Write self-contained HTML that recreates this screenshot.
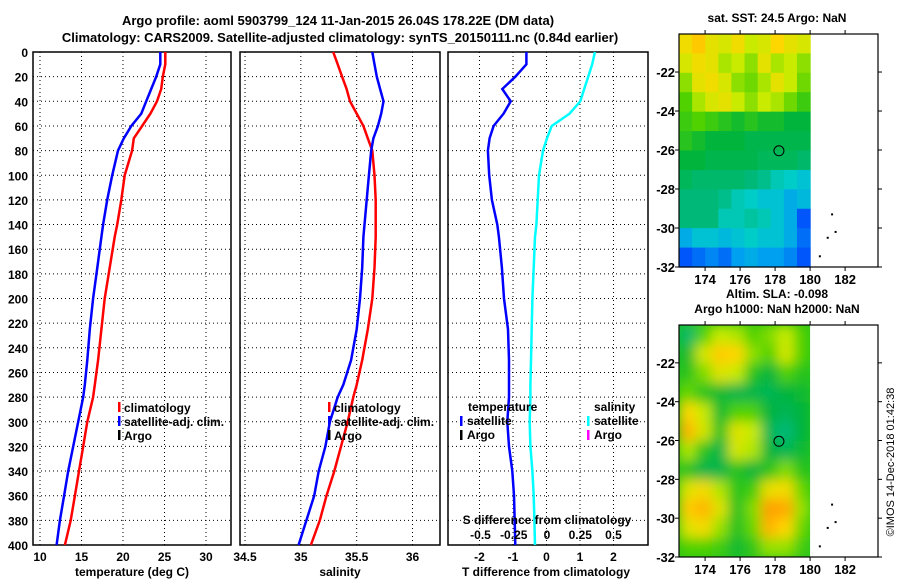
<!DOCTYPE html>
<html><head><meta charset="utf-8"><style>
html,body{margin:0;padding:0;background:#fff}
svg{display:block;font-family:"Liberation Sans",sans-serif;font-weight:bold}
text{font-size:12px;fill:#000}
</style></head><body>
<svg id="fig" width="900" height="580" viewBox="0 0 900 580">
<defs>
<filter id="blur" x="-10%" y="-10%" width="120%" height="120%"><feGaussianBlur stdDeviation="6" edgeMode="duplicate"/></filter>
<clipPath id="clipSla"><rect x="679" y="325" width="131" height="232"/></clipPath>
</defs>
<text x="338" y="25" text-anchor="middle" style="font-size:13px">Argo profile: aoml 5903799_124 11-Jan-2015 26.04S 178.22E (DM data)</text>
<text x="340" y="42" text-anchor="middle" style="font-size:13px">Climatology: CARS2009. Satellite-adjusted climatology: synTS_20150111.nc (0.84d earlier)</text>
<g id="p1"></g>
<g id="p2"></g>
<g id="p3"></g>
<g id="m1"></g>
<g id="m2"></g>
<text transform="translate(894,462) rotate(-90)" text-anchor="middle" style="font-size:11px;font-weight:normal">©IMOS 14-Dec-2018 01:42:38</text>
</svg>
<script>
// ---------- data ----------
const depths = [0,10,20,30,40,50,60,70,80,100,120,140,150,175,200,225,250,270,280,300,320,340,360,380,400];
const tempClim = [25.1,25.1,24.8,24.6,24.1,23.3,22.3,21.3,21.1,20.2,19.8,19.3,19.0,18.4,17.8,17.4,17.0,16.6,16.4,15.7,15.2,14.7,14.2,13.7,13.0];
const tempSat  = [24.5,24.5,24.0,23.4,22.8,22.2,21.0,20.1,19.4,18.7,18.1,17.6,17.4,16.9,16.4,16.0,15.7,15.4,15.2,14.6,14.0,13.4,12.9,12.4,12.0];
const salClim  = [35.29,35.33,35.37,35.41,35.44,35.5,35.56,35.6,35.64,35.66,35.67,35.67,35.67,35.66,35.64,35.6,35.55,35.5,35.47,35.42,35.36,35.3,35.23,35.17,35.09];
const salSat   = [35.64,35.66,35.68,35.71,35.74,35.72,35.69,35.65,35.63,35.61,35.59,35.57,35.56,35.55,35.53,35.5,35.45,35.38,35.33,35.26,35.22,35.16,35.12,35.05,34.98];
const tDiff = [-0.6,-0.6,-0.93,-1.32,-1.07,-1.28,-1.58,-1.7,-1.75,-1.71,-1.63,-1.47,-1.42,-1.33,-1.27,-1.15,-1.12,-1.12,-1.12,-1.17,-1.12,-1.02,-0.97,-0.95,-0.93];
const sDiff = [0.36,0.34,0.31,0.28,0.25,0.17,0.035,0.0,-0.03,-0.06,-0.07,-0.08,-0.09,-0.1,-0.11,-0.115,-0.12,-0.125,-0.125,-0.13,-0.125,-0.11,-0.1,-0.095,-0.09];
const depthTicks = [0,20,40,60,80,100,120,140,160,180,200,220,240,260,280,300,320,340,360,380,400];
const tempTicks = [10,15,20,25,30];
const salTicks = [34.5,35,35.5,36];
const tdTicks = [-2,-1,0,1,2];
const sdTicks = [-0.5,-0.25,0,0.25,0.5];
const sdTickLabels = ["-0.5","-0.25","0","0.25","0.5"];
const lonTicks = [174,176,178,180,182];
const latTicks = [-22,-24,-26,-28,-30,-32];
const sst = [
[25.6,25.8,25.5,25.4,25.6,25.3,25.4,25.7,25.5,25.4],
[25.4,25.6,25.5,25.2,25.3,25.1,25.5,25.2,25.3,25.1],
[25.1,25.5,25.6,25.4,25.1,25.0,25.2,25.5,25.3,25.0],
[24.9,25.2,25.4,25.5,25.3,25.1,25.3,25.2,25.0,24.8],
[24.8,24.9,24.8,24.7,24.6,24.7,24.6,24.6,24.5,24.5],
[24.7,24.6,24.5,24.5,24.5,24.4,24.4,24.4,24.4,24.4],
[24.5,24.5,24.4,24.4,24.4,24.4,24.3,24.3,24.3,24.2],
[24.3,24.2,24.2,24.2,24.2,24.1,24.0,23.8,23.7,23.6],
[24.1,24.1,24.1,24.0,23.8,23.7,23.6,23.6,23.4,23.5],
[24.1,24.1,24.1,23.8,23.8,23.9,23.8,23.6,23.4,23.0],
[23.4,23.6,23.6,23.5,23.6,23.7,23.6,23.6,23.4,23.1],
[23.0,23.1,23.2,23.1,23.3,23.4,23.3,23.3,23.2,23.0]];
const sla = [
[0.42,0.6,0.7,0.68,0.6,0.64,0.7,0.6],
[0.52,0.72,0.82,0.8,0.65,0.6,0.72,0.6],
[0.55,0.64,0.74,0.7,0.55,0.5,0.6,0.55],
[0.62,0.55,0.52,0.48,0.48,0.46,0.5,0.52],
[0.8,0.7,0.52,0.6,0.6,0.5,0.46,0.5],
[0.86,0.72,0.54,0.74,0.7,0.46,0.4,0.5],
[0.68,0.55,0.48,0.72,0.68,0.5,0.46,0.52],
[0.55,0.48,0.48,0.55,0.5,0.55,0.64,0.55],
[0.74,0.78,0.68,0.55,0.58,0.76,0.78,0.62],
[0.82,0.86,0.74,0.54,0.64,0.9,0.88,0.66],
[0.74,0.78,0.66,0.54,0.62,0.86,0.8,0.62],
[0.6,0.6,0.58,0.52,0.56,0.66,0.66,0.58]];
const argoLon = 178.22, argoLat = -26.04;

// ---------- helpers ----------
const NS="http://www.w3.org/2000/svg";
function mk(tag,parent,attrs){const e=document.createElementNS(NS,tag);for(const k in attrs)e.setAttribute(k,attrs[k]);parent.appendChild(e);return e;}
const PT=52, PB=545;
const yD = d => PT + d*(PB-PT)/400;
function lin(d0,d1,r0,r1){return v=>r0+(v-d0)*(r1-r0)/(d1-d0);}
const stops=[[0,0,0,140],[0.1,0,60,255],[0.2,0,160,240],[0.3,0,205,200],[0.4,0,185,120],[0.5,0,180,60],[0.6,80,210,0],[0.7,200,235,0],[0.8,255,215,0],[0.9,255,160,0],[1,230,60,0]];
function cmap(t){t=Math.max(0,Math.min(1,t));for(let i=1;i<stops.length;i++){if(t<=stops[i][0]){const a=stops[i-1],b=stops[i],f=(t-a[0])/(b[0]-a[0]);return `rgb(${Math.round(a[1]+f*(b[1]-a[1]))},${Math.round(a[2]+f*(b[2]-a[2]))},${Math.round(a[3]+f*(b[3]-a[3]))})`;}}return "rgb(230,60,0)";}

function panel(g,x0,x1,xTicks,xScale,showY){
  depthTicks.forEach(d=>{
    const l=mk('line',g,{x1:x0,x2:x1,y1:yD(d),y2:yD(d),stroke:'#000','stroke-dasharray':'1,3','stroke-width':1});
    
    
    if(showY){const t=mk('text',g,{x:28,y:yD(d)+5,'text-anchor':'end'});t.textContent=d;
      
      }
  });
  xTicks.forEach(v=>{
    const l=mk('line',g,{x1:xScale(v),x2:xScale(v),y1:PT,y2:PB,stroke:'#000','stroke-dasharray':'1,3','stroke-width':1});
    
    
  });
  const r=mk('rect',g,{x:x0,y:PT,width:x1-x0,height:PB-PT,fill:'none',stroke:'#000','stroke-width':1.5});
  
  
}
function line(g,xs,xScale,color,name){
  const p=mk('polyline',g,{points:xs.map((v,i)=>xScale(v).toFixed(1)+','+yD(depths[i]).toFixed(1)).join(' '),fill:'none',stroke:color,'stroke-width':2.5});
  
  
}
function label(g,x,y,txt,anchor,name,size){
  const t=mk('text',g,{x:x,y:y,'text-anchor':anchor||'middle'});t.textContent=txt;if(size)t.style.fontSize=size+'px';
  
  
  return t;
}
function legendBar(g,x,y,color){
  const r=mk('rect',g,{x:x,y:y-10,width:2.5,height:10,fill:color});
  
  
}

// ---------- panel 1: temperature ----------
const p1=document.getElementById('p1');
const xT=lin(10,30,40,206);
panel(p1,33,231,tempTicks,xT,true);
line(p1,tempClim,xT,'#ff0000','temperature-climatology-line');
line(p1,tempSat,xT,'#0000ff','temperature-satellite-line');
tempTicks.forEach(v=>label(p1,xT(v),561,v,'middle','temperature-tick-label'));
label(p1,132,576,'temperature (deg C)','middle','x-axis-title-temperature');
[['climatology','#ff0000'],['satellite-adj. clim.','#0000ff'],['Argo','#000']].forEach((e,i)=>{
  legendBar(p1,118,412+i*14,e[1]);label(p1,124,412+i*14,e[0],'start','legend-entry');});

// ---------- panel 2: salinity ----------
const p2=document.getElementById('p2');
const xS=lin(34.5,36,245,412.5);
panel(p2,240,440,salTicks,xS,false);
line(p2,salClim,xS,'#ff0000','salinity-climatology-line');
line(p2,salSat,xS,'#0000ff','salinity-satellite-line');
salTicks.forEach(v=>label(p2,xS(v),561,v,'middle','salinity-tick-label'));
label(p2,340,576,'salinity','middle','x-axis-title-salinity');
[['climatology','#ff0000'],['satellite-adj. clim.','#0000ff'],['Argo','#000']].forEach((e,i)=>{
  legendBar(p2,328,412+i*14,e[1]);label(p2,334,412+i*14,e[0],'start','legend-entry');});

// ---------- panel 3: differences ----------
const p3=document.getElementById('p3');
const xTD=lin(-2,2,479.5,613.5);
const xSD=lin(-0.5,0.5,480.5,613.5);
panel(p3,448,648,tdTicks,xTD,false);
line(p3,tDiff,xTD,'#0000ff','temperature-difference-line');
line(p3,sDiff,xSD,'#00ffff','salinity-difference-line');
tdTicks.forEach(v=>label(p3,xTD(v),561,v,'middle','t-difference-tick-label'));
sdTicks.forEach((v,i)=>label(p3,xSD(v),539,sdTickLabels[i],'middle','s-difference-tick-label'));
label(p3,547,524,'S difference from climatology','middle','s-difference-axis-title');
label(p3,546,576,'T difference from climatology','middle','x-axis-title-t-difference');
label(p3,468,411,'temperature','start','legend-title-temperature');
legendBar(p3,460,426,'#0000ff');label(p3,467,425,'satellite','start','legend-entry');
legendBar(p3,460,440,'#000');label(p3,467,439,'Argo','start','legend-entry');
label(p3,594,411,'salinity','start','legend-title-salinity');
legendBar(p3,587,426,'#00ffff');label(p3,594,425,'satellite','start','legend-entry');
legendBar(p3,587,440,'#ff00ff');label(p3,594,439,'Argo','start','legend-entry');

// ---------- maps ----------
function mapAxes(g,top,bot){
  const xL=lin(172.51,183.88,679,878);
  const yL=lin(-22,-32,top+(bot-top)*0.1632,bot);
  return [xL,yL];
}
function mapFrame(g,top,bot,xL,yL){
  const r=mk('rect',g,{x:679,y:top,width:199,height:bot-top,fill:'none',stroke:'#000','stroke-width':1.2});
  
  
  lonTicks.forEach(v=>{
    mk('line',g,{x1:xL(v),x2:xL(v),y1:top,y2:top-4,stroke:'#000'});
    mk('line',g,{x1:xL(v),x2:xL(v),y1:bot,y2:bot+4,stroke:'#000'});
    label(g,xL(v),bot+17,v,'middle','longitude-tick-label',13);
  });
  latTicks.forEach(v=>{
    mk('line',g,{x1:679,x2:675,y1:yL(v),y2:yL(v),stroke:'#000'});
    mk('line',g,{x1:878,x2:882,y1:yL(v),y2:yL(v),stroke:'#000'});
    label(g,675,yL(v)+5,v,'end','latitude-tick-label',13);
  });
  const c=mk('circle',g,{cx:xL(argoLon),cy:yL(argoLat),r:5,fill:'none',stroke:'#000','stroke-width':1});
  
  
  [[181.2,-29.25],[180.95,-30.45],[181.4,-30.15],[180.5,-31.4]].forEach(p=>{
    const s=mk('rect',g,{x:xL(p[0]),y:yL(p[1]),width:2,height:2,fill:'#000'});
    
    
  });
}
// SST map
const m1=document.getElementById('m1');
label(m1,777,22,'sat. SST: 24.5 Argo: NaN','middle','sst-map-title');
let [xA,yA]=mapAxes(m1,34,267);
{
  const nr=sst.length,nc=sst[0].length,x0=679,x1=xA(180),y0=34,y1=267;
  const cw=(x1-x0)/nc,ch=(y1-y0)/nr;
  sst.forEach((row,i)=>row.forEach((v,j)=>{
    const r=mk('rect',m1,{x:x0+j*cw,y:y0+i*ch,width:cw+0.6,height:ch+0.6,fill:cmap((v-22.5)/4)});
    
    
  }));
}
mapFrame(m1,34,267,xA,yA);
// SLA map
const m2=document.getElementById('m2');
label(m2,777,298,'Altim. SLA: -0.098','middle','sla-map-title');
label(m2,777,313,'Argo h1000: NaN h2000: NaN','middle','sla-map-subtitle');
let [xB,yB]=mapAxes(m2,325,557);
{
  const x0=679,x1=xB(180),y0=325,y1=557;
  const bg=mk('rect',m2,{x:x0,y:y0,width:x1-x0,height:y1-y0,fill:cmap(0.55)});
  
  
  const cg=mk('g',m2,{'clip-path':'url(#clipSla)'});
  const bl=mk('g',cg,{filter:'url(#blur)'});
  const nr=sla.length,nc=sla[0].length,cw=(x1-x0)/nc,ch=(y1-y0)/nr;
  sla.forEach((row,i)=>row.forEach((v,j)=>{
    const r=mk('rect',bl,{x:x0+j*cw,y:y0+i*ch,width:cw+0.6,height:ch+0.6,fill:cmap(v)});
    
    
  }));
}
mapFrame(m2,325,557,xB,yB);
</script>
</body></html>
